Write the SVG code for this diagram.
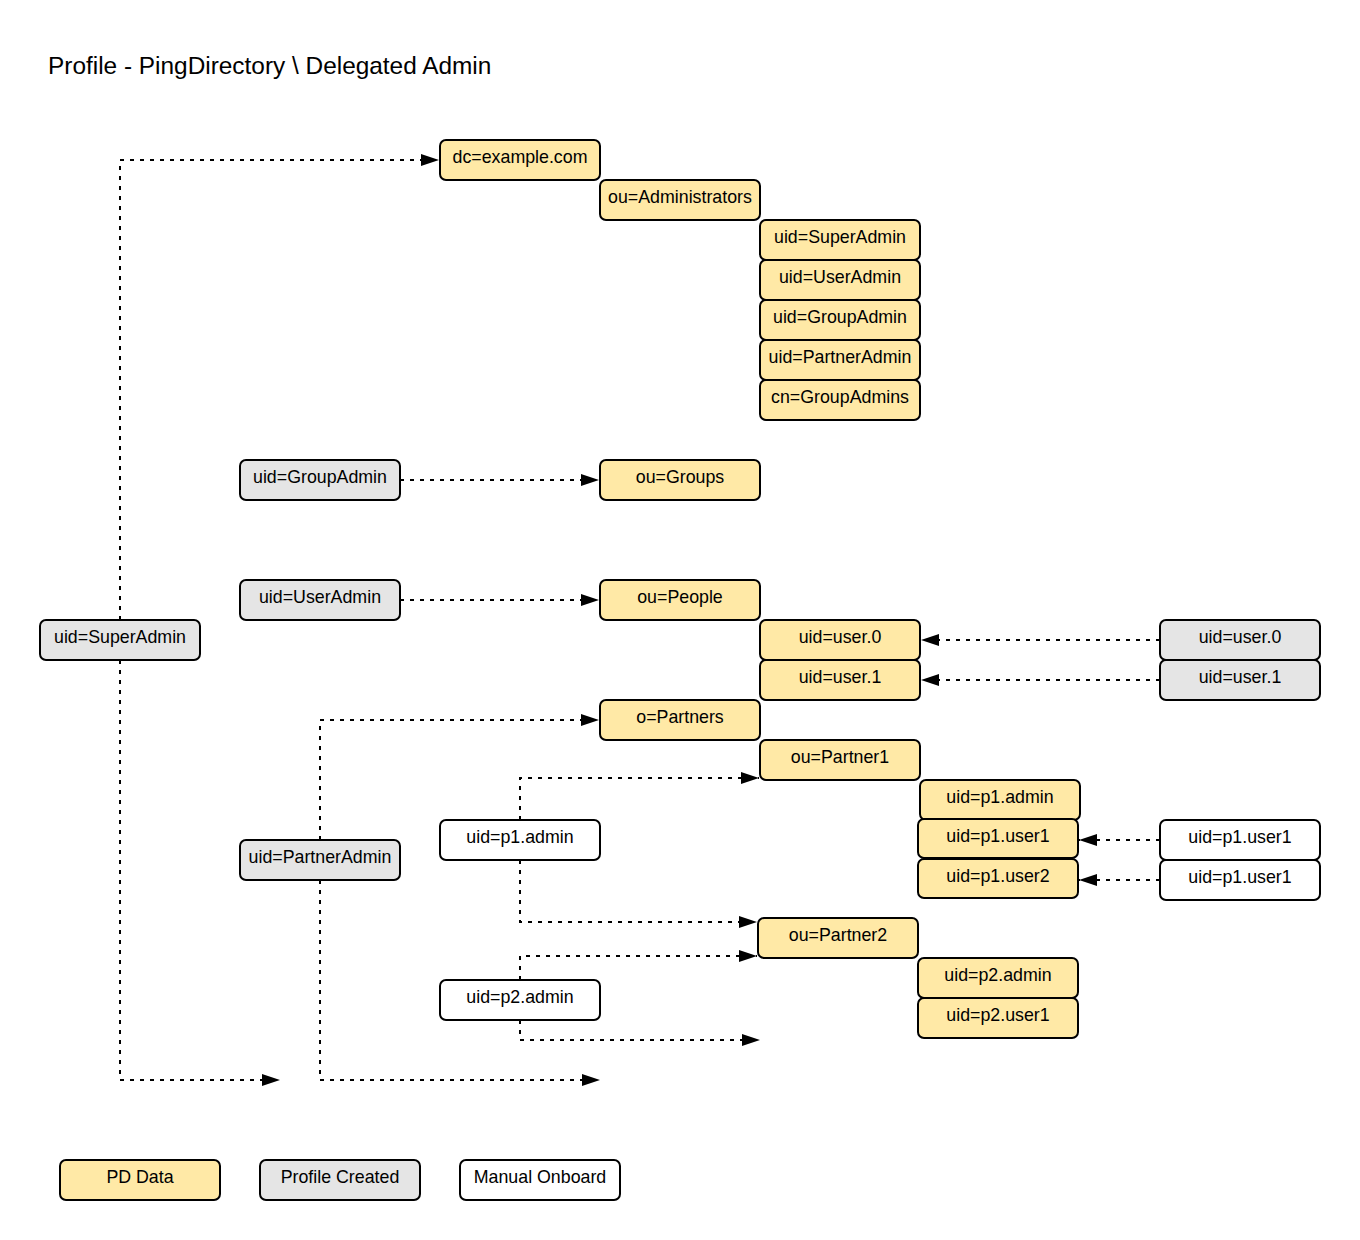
<svg xmlns="http://www.w3.org/2000/svg" width="1360" height="1240" viewBox="0 0 1360 1240">
<style>
.b{stroke:#000;stroke-width:2}
.y{fill:#ffe9a6}
.g{fill:#e5e5e5}
.w{fill:#fff}
text{font-family:"Liberation Sans",Arial,sans-serif;font-size:17.8px;fill:#000;text-anchor:middle}
.c{fill:none;stroke:#000;stroke-width:2;stroke-dasharray:4 6;marker-end:url(#ah)}
</style>
<defs>
<marker id="ah" markerWidth="18" markerHeight="12" refX="18" refY="6" orient="auto" markerUnits="userSpaceOnUse">
<path d="M0,0 L18,6 L0,12 Z" fill="#000"/>
</marker>
</defs>
<rect width="1360" height="1240" fill="#fff"/>
<text x="48" y="74" style="font-size:24.4px;text-anchor:start">Profile - PingDirectory \ Delegated Admin</text>
<g id="connectors">
<path class="c" d="M120,620 V160 H439"/>
<path class="c" d="M120,660 V1080 H280"/>
<path class="c" d="M400,480 H599"/>
<path class="c" d="M400,600 H599"/>
<path class="c" d="M1160,640 H921"/>
<path class="c" d="M1160,680 H921"/>
<path class="c" d="M320,840 V720 H599"/>
<path class="c" d="M320,880 V1080 H600"/>
<path class="c" d="M520,820 V778 H759"/>
<path class="c" d="M520,860 V922 H757"/>
<path class="c" d="M520,980 V956 H757"/>
<path class="c" d="M520,1020 V1040 H760"/>
<path class="c" d="M1160,840 H1079"/>
<path class="c" d="M1160,880 H1079"/>
</g>
<g id="n-dc"><rect class="b y" x="440" y="140" width="160" height="40" rx="6"/><text x="520" y="162.5">dc=example.com</text></g>
<g id="n-admins"><rect class="b y" x="600" y="180" width="160" height="40" rx="6"/><text x="680" y="202.5">ou=Administrators</text></g>
<g id="n-superadmin"><rect class="b y" x="760" y="220" width="160" height="40" rx="6"/><text x="840" y="242.5">uid=SuperAdmin</text></g>
<g id="n-useradmin"><rect class="b y" x="760" y="260" width="160" height="40" rx="6"/><text x="840" y="282.5">uid=UserAdmin</text></g>
<g id="n-groupadmin"><rect class="b y" x="760" y="300" width="160" height="40" rx="6"/><text x="840" y="322.5">uid=GroupAdmin</text></g>
<g id="n-partneradmin"><rect class="b y" x="760" y="340" width="160" height="40" rx="6"/><text x="840" y="362.5">uid=PartnerAdmin</text></g>
<g id="n-groupadmins"><rect class="b y" x="760" y="380" width="160" height="40" rx="6"/><text x="840" y="402.5">cn=GroupAdmins</text></g>
<g id="p-groupadmin"><rect class="b g" x="240" y="460" width="160" height="40" rx="6"/><text x="320" y="482.5">uid=GroupAdmin</text></g>
<g id="n-groups"><rect class="b y" x="600" y="460" width="160" height="40" rx="6"/><text x="680" y="482.5">ou=Groups</text></g>
<g id="p-useradmin"><rect class="b g" x="240" y="580" width="160" height="40" rx="6"/><text x="320" y="602.5">uid=UserAdmin</text></g>
<g id="n-people"><rect class="b y" x="600" y="580" width="160" height="40" rx="6"/><text x="680" y="602.5">ou=People</text></g>
<g id="n-user0"><rect class="b y" x="760" y="620" width="160" height="40" rx="6"/><text x="840" y="642.5">uid=user.0</text></g>
<g id="n-user1"><rect class="b y" x="760" y="660" width="160" height="40" rx="6"/><text x="840" y="682.5">uid=user.1</text></g>
<g id="p-user0"><rect class="b g" x="1160" y="620" width="160" height="40" rx="6"/><text x="1240" y="642.5">uid=user.0</text></g>
<g id="p-user1"><rect class="b g" x="1160" y="660" width="160" height="40" rx="6"/><text x="1240" y="682.5">uid=user.1</text></g>
<g id="p-superadmin"><rect class="b g" x="40" y="620" width="160" height="40" rx="6"/><text x="120" y="642.5">uid=SuperAdmin</text></g>
<g id="n-partners"><rect class="b y" x="600" y="700" width="160" height="40" rx="6"/><text x="680" y="722.5">o=Partners</text></g>
<g id="n-partner1"><rect class="b y" x="760" y="740" width="160" height="40" rx="6"/><text x="840" y="762.5">ou=Partner1</text></g>
<g id="n-p1admin"><rect class="b y" x="920" y="780" width="160" height="40" rx="6"/><text x="1000" y="802.5">uid=p1.admin</text></g>
<g id="n-p1user1"><rect class="b y" x="918" y="819" width="160" height="39" rx="6"/><text x="998" y="841.5">uid=p1.user1</text></g>
<g id="n-p1user2"><rect class="b y" x="918" y="859" width="160" height="39" rx="6"/><text x="998" y="881.5">uid=p1.user2</text></g>
<g id="m-p1admin"><rect class="b w" x="440" y="820" width="160" height="40" rx="6"/><text x="520" y="842.5">uid=p1.admin</text></g>
<g id="p-partneradmin"><rect class="b g" x="240" y="840" width="160" height="40" rx="6"/><text x="320" y="862.5">uid=PartnerAdmin</text></g>
<g id="m-p1user1a"><rect class="b w" x="1160" y="820" width="160" height="40" rx="6"/><text x="1240" y="842.5">uid=p1.user1</text></g>
<g id="m-p1user1b"><rect class="b w" x="1160" y="860" width="160" height="40" rx="6"/><text x="1240" y="882.5">uid=p1.user1</text></g>
<g id="n-partner2"><rect class="b y" x="758" y="918" width="160" height="40" rx="6"/><text x="838" y="940.5">ou=Partner2</text></g>
<g id="n-p2admin"><rect class="b y" x="918" y="958" width="160" height="40" rx="6"/><text x="998" y="980.5">uid=p2.admin</text></g>
<g id="n-p2user1"><rect class="b y" x="918" y="998" width="160" height="40" rx="6"/><text x="998" y="1020.5">uid=p2.user1</text></g>
<g id="m-p2admin"><rect class="b w" x="440" y="980" width="160" height="40" rx="6"/><text x="520" y="1002.5">uid=p2.admin</text></g>
<g id="legend-pd"><rect class="b y" x="60" y="1160" width="160" height="40" rx="6"/><text x="140" y="1182.5">PD Data</text></g>
<g id="legend-profile"><rect class="b g" x="260" y="1160" width="160" height="40" rx="6"/><text x="340" y="1182.5">Profile Created</text></g>
<g id="legend-manual"><rect class="b w" x="460" y="1160" width="160" height="40" rx="6"/><text x="540" y="1182.5">Manual Onboard</text></g>
</svg>
